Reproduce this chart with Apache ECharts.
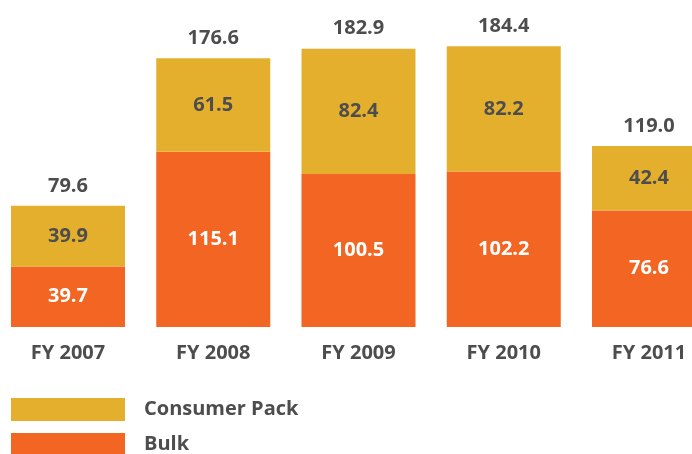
<!DOCTYPE html>
<html><head><meta charset="utf-8">
<script src="https://cdn.jsdelivr.net/npm/echarts@6/dist/echarts.min.js"></script>
<style>html,body{margin:0;padding:0;background:#fff}#c{width:692px;height:454px}</style>
</head><body><div id="c"></div>
<script>
const categories = ['FY 2007','FY 2008','FY 2009','FY 2010','FY 2011'];
const bulk = [39.7, 115.1, 100.5, 102.2, 76.6];
const consumerPack = [39.9, 61.5, 82.4, 82.2, 42.4];
const totals = [79.6, 176.6, 182.9, 184.4, 119.0];

const FONT = '"Open Sans", "Noto Sans", sans-serif';
const DARK = '#4d4d4d';
const FS = 20;
const chart = echarts.init(document.getElementById('c'));
const legendText = {fontFamily: FONT, fontWeight: 'bold', fontSize: FS, color: DARK, padding: [0,0,0,14]};
chart.setOption({
  animation: false,
  textStyle: {fontFamily: FONT},
  grid: {left: 68, width: 581, top: 22.6, height: 304.4, containLabel: false},
  legend: [
    {data: ['Consumer Pack'], left: 11, top: 398, padding: 0, itemWidth: 114, itemHeight: 23, icon: 'rect', textStyle: legendText},
    {data: ['Bulk'], left: 11, top: 433, padding: 0, itemWidth: 114, itemHeight: 23, icon: 'rect', textStyle: legendText}
  ],
  xAxis: {
    type: 'category', data: categories, boundaryGap: false,
    axisLine: {show: false}, axisTick: {show: false}, splitLine: {show: false},
    axisLabel: {margin: 16, fontFamily: FONT, fontWeight: 'bold', fontSize: FS, color: DARK}
  },
  yAxis: {type: 'value', min: 0, max: 200, show: false, splitLine: {show: false}},
  series: [
    {
      name: 'Bulk', type: 'bar', stack: 's', barWidth: 114, clip: false, data: bulk,
      itemStyle: {color: '#F26522'},
      label: {show: true, position: 'inside', fontFamily: FONT, fontWeight: 'bold', fontSize: FS, color: '#fff',
              formatter: p => p.value.toFixed(1)}
    },
    {
      name: 'Consumer Pack', type: 'bar', stack: 's', barWidth: 114, clip: false, data: consumerPack,
      itemStyle: {color: '#E5AF2E'},
      label: {show: true, position: 'inside', fontFamily: FONT, fontWeight: 'bold', fontSize: FS, color: DARK,
              formatter: p => p.value.toFixed(1)}
    },
    {
      name: 'Total', type: 'bar', stack: 's', barWidth: 114, clip: false, data: totals.map(() => 0),
      itemStyle: {color: 'transparent'},
      label: {show: true, position: 'top', distance: 10, fontFamily: FONT, fontWeight: 'bold', fontSize: FS, color: DARK,
              formatter: p => totals[p.dataIndex].toFixed(1)}
    }
  ]
});
</script></body></html>
